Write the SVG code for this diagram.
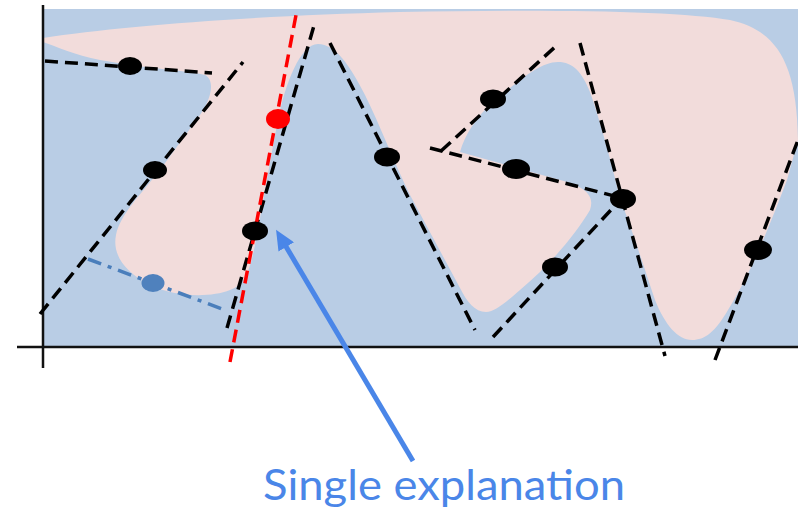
<svg xmlns="http://www.w3.org/2000/svg" width="798" height="512" viewBox="0 0 798 512">
<style>
.dash{fill:none;stroke:#000;stroke-width:3.5;stroke-dasharray:13 7}
.pt{fill:#000}
</style>
<defs>
<marker id="ah" markerWidth="20" markerHeight="18" refX="4" refY="9" orient="auto" markerUnits="userSpaceOnUse" viewBox="0 0 20 18">
<path d="M0,0 L20,9 L0,18 Z" fill="#4a86e8"/>
</marker>
</defs>
<g id="background">
<rect x="43" y="9" width="755" height="338" fill="#b9cde5"/>
<path fill="#f2dcdb" d="M43,38 C120,26 250,16 400,12 C550,9 680,11 730,20 C775,30 797,60 798,140 L787,180 C770,225 750,275 728,310 C715,332 705,340 692,340 C678,340 665,325 655,300 C645,270 632,230 620,198 C612,165 600,120 590,92 C582,72 573,62 558,62 C540,62 520,80 495,100 C475,118 465,135 460,152 L560,180 C585,187 595,195 590,210 C575,235 550,265 520,290 C505,303 495,312 486,312 C475,312 467,302 460,288 L410,195 C395,165 380,125 365,95 C350,65 335,44 318,44 C300,44 285,85 278,120 C270,160 262,210 255,245 C250,270 245,285 230,290 C210,298 175,297 150,285 C125,272 112,255 116,235 C120,215 140,195 160,170 L200,115 C212,98 215,80 205,75 C190,71 150,69 100,60 C75,55 55,46 43,42 Z"/>
</g>
<g id="axes" stroke="#111" stroke-width="2.5">
<line x1="43" y1="5" x2="43" y2="368"/>
<line x1="17" y1="347" x2="798" y2="347"/>
</g>
<g id="connectors">
<line class="dash" x1="45" y1="61" x2="212" y2="73"/>
<line class="dash" x1="40" y1="314" x2="243" y2="62"/>
<line class="dash" x1="227" y1="328" x2="315" y2="22"/>
<line class="dash" x1="330" y1="43" x2="475" y2="330"/>
<line class="dash" x1="493" y1="337" x2="622" y2="198"/>
<line class="dash" x1="430" y1="148" x2="622" y2="198"/>
<line class="dash" x1="441" y1="151" x2="555" y2="47"/>
<line class="dash" x1="580" y1="43" x2="665" y2="356"/>
<line class="dash" x1="715" y1="360" x2="798" y2="140"/>
<line x1="88" y1="259" x2="225" y2="310" fill="none" stroke="#4a7ebb" stroke-width="3.5" stroke-dasharray="14 7 4 7"/>
<line x1="230" y1="362" x2="296" y2="15" fill="none" stroke="#ff0000" stroke-width="3.5" stroke-dasharray="13 7"/>
<line x1="413" y1="461" x2="284.2" y2="243.5" stroke="#4a86e8" stroke-width="5" marker-end="url(#ah)"/>
</g>
<g id="points">
<ellipse class="pt" cx="130" cy="66" rx="12" ry="9"/>
<ellipse class="pt" cx="155" cy="170" rx="12" ry="9"/>
<ellipse class="pt" cx="255" cy="231" rx="13" ry="9.5"/>
<ellipse class="pt" cx="387" cy="157" rx="13" ry="9.5"/>
<ellipse class="pt" cx="493" cy="99" rx="13" ry="9.5"/>
<ellipse class="pt" cx="516" cy="169" rx="14" ry="10"/>
<ellipse class="pt" cx="555" cy="267" rx="13" ry="9.5"/>
<ellipse class="pt" cx="623" cy="199" rx="13" ry="10"/>
<ellipse class="pt" cx="758" cy="250" rx="14" ry="10"/>
<ellipse cx="278" cy="119" rx="12" ry="10" fill="#ff0000"/>
<ellipse cx="153" cy="283" rx="11.5" ry="9" fill="#4f81bd"/>
</g>
<g id="label">
<text x="263" y="500" font-family="Lato, 'Open Sans', sans-serif" font-size="43" fill="#4a86e8" textLength="362" lengthAdjust="spacingAndGlyphs">Single explanation</text>
</g>
</svg>
